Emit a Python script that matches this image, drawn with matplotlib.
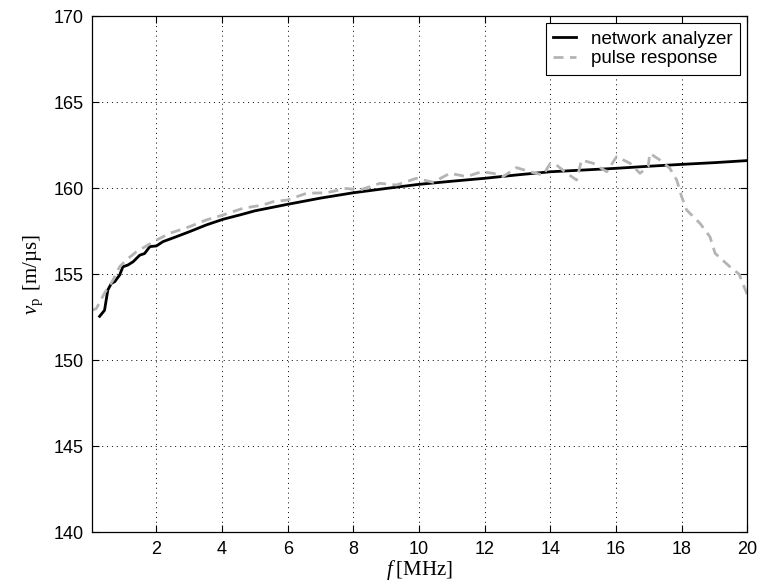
# -*- coding: utf-8 -*-
"""
Phase velocity vs frequency: network analyzer and pulse response
"""

import numpy as np
import matplotlib.pyplot as plt

# network analyzer measurement
f_na = [0.27, 0.42, 0.52, 0.63, 0.73, 0.88, 0.98, 1.13, 1.29, 1.49, 1.64,
        1.80, 2.0, 2.2, 2.4, 2.61, 3.01, 3.52, 4.03, 4.54, 5.0, 6.0, 7.0,
        8.0, 9.0, 10.0, 11.0, 12.0, 13.0, 14.0, 15.0, 16.0, 17.0, 18.0,
        19.0, 20.0]
v_na = [152.55, 152.9, 154.08, 154.47, 154.56, 154.95, 155.43, 155.53,
        155.72, 156.1, 156.2, 156.6, 156.64, 156.89, 157.03, 157.18, 157.47,
        157.86, 158.19, 158.44, 158.68, 159.06, 159.42, 159.73, 159.98,
        160.22, 160.40, 160.57, 160.77, 160.95, 161.05, 161.15, 161.27,
        161.38, 161.48, 161.6]

# pulse response measurement
f_pr = [0.03, 0.17, 0.42, 0.68, 0.88, 1.08, 1.39, 1.74, 2.0, 2.4, 3.01,
        3.52, 4.03, 4.64, 5.25, 5.55, 6.0, 6.57, 7.18, 7.79, 8.2, 8.81,
        9.31, 9.92, 10.43, 10.94, 11.45, 11.9, 12.26, 12.56, 12.97, 13.38,
        13.78, 14.0, 14.19, 14.5, 14.8, 14.95, 15.31, 15.72, 16.02, 16.43,
        16.73, 16.98, 17.03, 17.34, 17.64, 17.85, 18.0, 18.15, 18.56, 18.86,
        19.02, 19.47, 19.75, 20.0]
v_pr = [152.9, 153.0, 153.9, 154.66, 155.43, 155.82, 156.3, 156.69, 156.98,
        157.37, 157.76, 158.15, 158.44, 158.83, 159.02, 159.21, 159.31,
        159.7, 159.73, 159.98, 159.89, 160.28, 160.18, 160.57, 160.34,
        160.86, 160.67, 160.95, 160.86, 160.67, 161.19, 160.95, 160.76,
        161.44, 161.34, 160.86, 160.47, 161.63, 161.44, 160.95, 161.83,
        161.44, 160.86, 161.24, 162.02, 161.63, 161.15, 160.47, 159.5,
        158.73, 157.95, 157.18, 156.21, 155.43, 155.0, 153.8]

xticks = np.arange(2, 21, 2)
yticks = np.arange(140, 171, 5)

plt.rcParams["font.family"] = "Liberation Sans"
plt.rcParams["mathtext.fontset"] = "custom"
plt.rcParams["mathtext.rm"] = "Liberation Serif"
plt.rcParams["mathtext.it"] = "Liberation Serif:italic"

fig = plt.figure(figsize=(7.6, 5.87), dpi=100)
ax = fig.add_axes([0.1207, 0.0932, 0.8626, 0.8795])

ax.plot(f_na, v_na, "-", color="black", lw=2.0, label="network analyzer")
ax.plot(f_pr, v_pr, "--", color="#b4b4b4", lw=2.0, dashes=(3.6, 2.3),
        label="pulse response")

ax.set_xlim(0.03, 20)
ax.set_ylim(140, 170)
ax.set_xticks(xticks)
ax.set_yticks(yticks)
ax.tick_params(direction="in", top=True, right=True, length=5, width=0.8,
               labelsize=13, pad=6)
ax.grid(True, linestyle=(0, (1, 4)), color="black", lw=0.7)
for s in ax.spines.values():
    s.set_linewidth(0.9)

ax.set_xlabel(r"$f\;$[MHz]", fontsize=15, family="Liberation Serif",
              labelpad=0)
ax.set_ylabel(r"$v_{\mathrm{p}}\,$ [m/µs]", fontsize=15,
              family="Liberation Serif", labelpad=6)

leg = ax.legend(loc="upper right", bbox_to_anchor=(0.9889, 0.9859),
                borderaxespad=0, fontsize=13.5, fancybox=False,
                edgecolor="black", framealpha=1, handlelength=1.2,
                handletextpad=0.8, borderpad=0.4, labelspacing=0.12)
leg.get_frame().set_linewidth(0.8)

plt.savefig("out.png", dpi=100)
